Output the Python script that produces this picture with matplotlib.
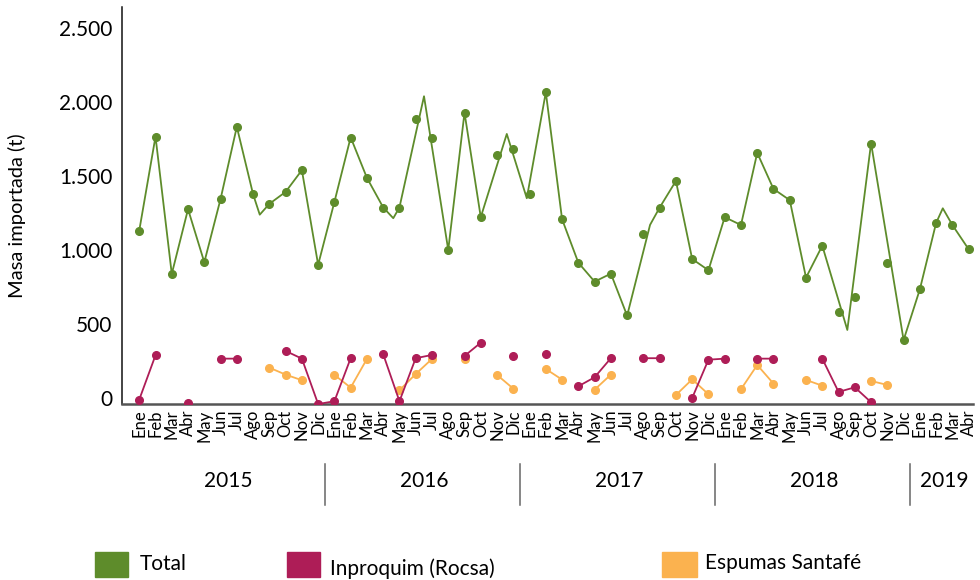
#!/usr/bin/env python

import numpy as np
import matplotlib.pyplot as plt
from matplotlib.patches import Rectangle

## datos (toneladas importadas por mes)

meses = ["Ene", "Feb", "Mar", "Abr", "May", "Jun", "Jul", "Ago", "Sep", "Oct", "Nov", "Dic"]
anios = ["2015", "2016", "2017", "2018", "2019"]
meses_por_anio = [12, 12, 12, 12, 4]

# puntos del total, uno por mes (Ene 2015 - Abr 2019)
total = [1132, 1768, 839, 1277, 918, 1344, 1834, 1378, 1315, 1396, 1541, 900,
         1326, 1761, 1489, 1288, 1288, 1890, 1757, 1001, 1928, 1223, 1644, 1683,
         1378, 2068, 1211, 916, 787, 839, 559, 1107, 1288, 1468, 943, 866,
         1223, 1170, 1658, 1414, 1337, 814, 1031, 584, 686, 1721, 916, 392,
         738, 1184, 1170, 1006]

# la linea del total no pasa por todos los puntos: vertices propios (indice de mes, valor)
linea_pos = [0, 1, 2, 3, 4, 5, 6, 7, 7.41, 8, 9, 10, 11,
             12, 13, 14, 15, 15.62, 16, 17.51, 19, 20, 21, 22.6, 23.83,
             25, 26, 27, 28, 29, 30, 31.41, 32, 33, 34, 35,
             36, 37, 38, 39, 40, 41, 42, 43.54, 45, 47,
             48, 49, 49.41, 50, 51]
linea_total = [1132, 1768, 839, 1277, 918, 1346, 1834, 1378, 1240, 1313, 1394, 1541, 901,
               1326, 1763, 1489, 1289, 1216, 1289, 2041, 1001, 1930, 1223, 1786, 1351,
               2068, 1209, 915, 787, 841, 557, 1171, 1288, 1468, 940, 864,
               1223, 1170, 1658, 1414, 1338, 814, 1030, 460, 1723, 392,
               735, 1184, 1283, 1170, 1006]

nan = np.nan
inproquim = [-11, 289, nan, -32, nan, 266, 266, nan, nan, 318, 266, -41,
             -22, 269, nan, 296, -22, 269, 291, nan, 284, 374, nan, 284,
             nan, 296, nan, 79, 140, 269, nan, 269, 269, nan, 0, 259,
             266, nan, 266, 266, nan, nan, 266, 41, 72, -29, nan, nan,
             nan, nan, nan, nan]

espumas = [nan, nan, nan, nan, nan, nan, nan, nan, 205, 158, 120, nan,
           156, 70, 264, nan, 52, 162, 264, nan, 264, nan, 156, 63,
           nan, 196, 124, nan, 56, 158, nan, nan, nan, 20, 126, 25,
           nan, 59, 223, 97, nan, 122, 83, nan, nan, 115, 88, nan,
           nan, nan, nan, nan]

verde = "#5e8c2b"
rojo = "#ae1d57"
naranja = "#fbb24f"


def main():
    plt.rcParams['font.family'] = ['Lato', 'DejaVu Sans']

    fig = plt.figure(figsize=(9.8, 5.8), dpi=100)
    ax = fig.add_axes([0.1245, 0.3034, 0.8684, 0.6846])

    x = np.arange(len(total))
    ax.plot(x, espumas, color=naranja, linewidth=1.3, marker='o', markersize=5.5, zorder=2)
    ax.plot(x, inproquim, color=rojo, linewidth=1.3, marker='o', markersize=5.5, zorder=3)
    ax.plot(linea_pos, linea_total, color=verde, linewidth=1.3, zorder=4)
    ax.plot(x, total, linestyle='none', color=verde, marker='o', markersize=5.5, zorder=5)

    ax.set_xlim(-1.06, 51.27)
    ax.set_ylim(-41, 2645)

    etiquetas = []
    for n in meses_por_anio:
        etiquetas += meses[:n]
    ax.set_xticks(x)
    ax.set_xticklabels(etiquetas, rotation=90, fontsize=12)
    yt = [0, 500, 1000, 1500, 2000, 2500]
    ax.set_yticks(yt)
    ax.set_yticklabels(["{:,}".format(v).replace(",", ".") for v in yt], fontsize=15)
    ax.tick_params(axis='x', length=0, pad=4)
    ax.tick_params(axis='y', length=0, pad=7)

    for s in ["top", "right"]:
        ax.spines[s].set_visible(False)
    ax.spines["left"].set_color("#111111")
    ax.spines["left"].set_linewidth(1.1)
    ax.spines["bottom"].set_color("#555555")
    ax.spines["bottom"].set_linewidth(1.8)

    # etiquetas de anio y separadores bajo los meses
    tr = ax.get_xaxis_transform()
    inicio = 0
    for i, (anio, n) in enumerate(zip(anios, meses_por_anio)):
        centro = inicio + (n - 1) / 2
        ax.text(centro, -0.194, anio, transform=tr, ha='center', va='center', fontsize=15)
        if i > 0:
            ax.plot([inicio - 0.6, inicio - 0.6], [-0.152, -0.254], transform=tr,
                    color="#666666", linewidth=1.1, clip_on=False)
        inicio += n

    fig.text(0.017, 0.628, "Masa importada (t)", rotation=90, ha='center', va='center', fontsize=14.5)

    # leyenda hecha a mano
    for x0, w, color, tx, ty, texto in [(95, 33, verde, 140, 564, "Total"),
                                        (287, 33, rojo, 330, 569, "Inproquim (Rocsa)"),
                                        (662, 35, naranja, 705, 563, "Espumas Santafé")]:
        fig.patches.append(Rectangle((x0 / 980, 1 - 577 / 580), w / 980, 25 / 580,
                                     transform=fig.transFigure, color=color))
        fig.text(tx / 980, 1 - ty / 580, texto, ha='left', va='center', fontsize=15)

    fig.savefig("out.png", dpi=100)


if __name__ == "__main__":
    main()
